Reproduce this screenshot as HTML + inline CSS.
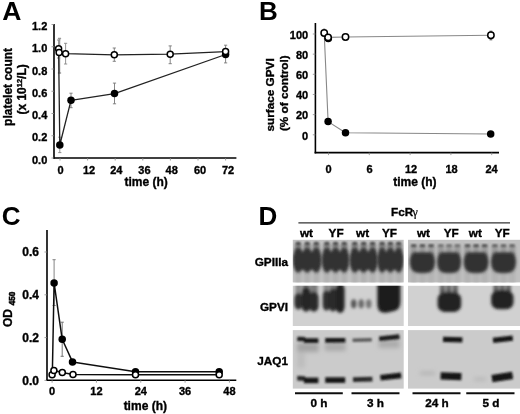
<!DOCTYPE html>
<html><head><meta charset="utf-8"><style>
html,body{margin:0;padding:0;background:#fff;}
svg{display:block;font-family:"Liberation Sans", sans-serif;}
.t text{font-weight:bold;fill:#000;stroke:#000;stroke-width:0.35;paint-order:stroke;}
</style></head><body>
<svg width="520" height="414" viewBox="0 0 520 414">
<defs><filter id="gb" x="0" y="0" width="100%" height="100%"><feGaussianBlur stdDeviation="0.35"/></filter></defs>
<g filter="url(#gb)">
<rect width="520" height="414" fill="#fff"/>
<g class="t">
<text x="2.3" y="19.8" font-size="26.5" text-anchor="start" style="stroke-width:0">A</text>
<text x="47.3" y="163.7" font-size="11" text-anchor="end" >0.0</text>
<text x="47.3" y="141.45" font-size="11" text-anchor="end" >0.2</text>
<text x="47.3" y="119.2" font-size="11" text-anchor="end" >0.4</text>
<text x="47.3" y="96.94999999999999" font-size="11" text-anchor="end" >0.6</text>
<text x="47.3" y="74.7" font-size="11" text-anchor="end" >0.8</text>
<text x="47.3" y="52.45" font-size="11" text-anchor="end" >1.0</text>
<text x="47.3" y="30.19999999999997" font-size="11" text-anchor="end" >1.2</text>
<text x="60.6" y="174.2" font-size="11" text-anchor="middle" >0</text>
<text x="89.0" y="174.2" font-size="11" text-anchor="middle" >12</text>
<text x="116.3" y="174.2" font-size="11" text-anchor="middle" >24</text>
<text x="144.4" y="174.2" font-size="11" text-anchor="middle" >36</text>
<text x="171.7" y="174.2" font-size="11" text-anchor="middle" >48</text>
<text x="200" y="174.2" font-size="11" text-anchor="middle" >60</text>
<text x="228" y="174.2" font-size="11" text-anchor="middle" >72</text>
<text x="146.2" y="185.9" font-size="12" text-anchor="middle" >time (h)</text>
<text transform="translate(12,86.9) rotate(-90)" font-size="12" text-anchor="middle" >platelet count</text>
<text transform="translate(26.2,89.4) rotate(-90)" font-size="12" text-anchor="middle" >(x 10<tspan font-size="7.5" dy="-4.5">12</tspan><tspan dy="4.5">/L)</tspan></text>
<text x="259.0" y="19.8" font-size="26" text-anchor="start" style="stroke-width:0">B</text>
<text x="308.2" y="139.60000000000002" font-size="11" text-anchor="end" >0</text>
<text x="308.2" y="119.44000000000001" font-size="11" text-anchor="end" >20</text>
<text x="308.2" y="99.28000000000002" font-size="11" text-anchor="end" >40</text>
<text x="308.2" y="79.12" font-size="11" text-anchor="end" >60</text>
<text x="308.2" y="58.96000000000001" font-size="11" text-anchor="end" >80</text>
<text x="308.2" y="38.80000000000001" font-size="11" text-anchor="end" >100</text>
<text x="328.5" y="172.7" font-size="11" text-anchor="middle" >0</text>
<text x="369.6" y="172.7" font-size="11" text-anchor="middle" >6</text>
<text x="411.0" y="172.7" font-size="11" text-anchor="middle" >12</text>
<text x="451.5" y="172.7" font-size="11" text-anchor="middle" >18</text>
<text x="491.5" y="172.7" font-size="11" text-anchor="middle" >24</text>
<text x="414.9" y="186.3" font-size="12" text-anchor="middle" >time (h)</text>
<text transform="translate(273.6,94.9) rotate(-90)" font-size="11.75" text-anchor="middle" >surface GPVI</text>
<text transform="translate(288.0,93.2) rotate(-90)" font-size="11.75" text-anchor="middle" >(% of control)</text>
<text x="1.8" y="224.9" font-size="26" text-anchor="start" style="stroke-width:0">C</text>
<text x="39.0" y="384.90000000000003" font-size="12" text-anchor="end" >0.0</text>
<text x="39.0" y="341.84000000000003" font-size="12" text-anchor="end" >0.2</text>
<text x="39.0" y="298.78000000000003" font-size="12" text-anchor="end" >0.4</text>
<text x="39.0" y="255.72000000000003" font-size="12" text-anchor="end" >0.6</text>
<text x="52.1" y="395.4" font-size="11" text-anchor="middle" >0</text>
<text x="96.428" y="395.4" font-size="11" text-anchor="middle" >12</text>
<text x="140.756" y="395.4" font-size="11" text-anchor="middle" >24</text>
<text x="185.084" y="395.4" font-size="11" text-anchor="middle" >36</text>
<text x="229.412" y="395.4" font-size="11" text-anchor="middle" >48</text>
<text x="145.3" y="410.4" font-size="12" text-anchor="middle" >time (h)</text>
<text transform="translate(12.2,327) rotate(-90)" font-size="12" text-anchor="start" >OD</text>
<text transform="translate(14.8,305.3) rotate(-90)" font-size="8.2" text-anchor="start" style="stroke-width:0.55">450</text>
<text x="258.6" y="224.9" font-size="26" text-anchor="start" style="stroke-width:0">D</text>
<text x="391.0" y="216.3" font-size="11.75" text-anchor="start" >FcR</text>
<text x="412.6" y="215.6" font-size="12" font-family="Liberation Serif" style="font-weight:normal;stroke-width:0.2">&#947;</text>
<text x="306.5" y="237.3" font-size="11.75" text-anchor="middle" >wt</text>
<text x="336.1" y="237.3" font-size="11.75" text-anchor="middle" >YF</text>
<text x="362.6" y="237.3" font-size="11.75" text-anchor="middle" >wt</text>
<text x="389.5" y="237.3" font-size="11.75" text-anchor="middle" >YF</text>
<text x="423.5" y="237.3" font-size="11.75" text-anchor="middle" >wt</text>
<text x="451.3" y="237.3" font-size="11.75" text-anchor="middle" >YF</text>
<text x="475.3" y="237.3" font-size="11.75" text-anchor="middle" >wt</text>
<text x="502.2" y="237.3" font-size="11.75" text-anchor="middle" >YF</text>
<text x="288.0" y="266.1" font-size="11.75" text-anchor="end" >GPIIIa</text>
<text x="288.0" y="311.4" font-size="11.75" text-anchor="end" >GPVI</text>
<text x="288.0" y="365.3" font-size="11.75" text-anchor="end" >JAQ1</text>
<text x="319" y="407.2" font-size="11.75" text-anchor="middle" >0 h</text>
<text x="375.5" y="407.2" font-size="11.75" text-anchor="middle" >3 h</text>
<text x="437" y="407.2" font-size="11.75" text-anchor="middle" >24 h</text>
<text x="491" y="407.2" font-size="11.75" text-anchor="middle" >5 d</text>
</g>
<line x1="54" y1="24" x2="54" y2="158.8" stroke="#000" stroke-width="1.6"/>
<line x1="53.2" y1="158" x2="236.4" y2="158" stroke="#000" stroke-width="1.6"/>
<line x1="51.5" y1="158.0" x2="54" y2="158.0" stroke="#888" stroke-width="0.8"/>
<line x1="51.5" y1="135.75" x2="54" y2="135.75" stroke="#888" stroke-width="0.8"/>
<line x1="51.5" y1="113.5" x2="54" y2="113.5" stroke="#888" stroke-width="0.8"/>
<line x1="51.5" y1="91.24999999999999" x2="54" y2="91.24999999999999" stroke="#888" stroke-width="0.8"/>
<line x1="51.5" y1="69.0" x2="54" y2="69.0" stroke="#888" stroke-width="0.8"/>
<line x1="51.5" y1="46.75" x2="54" y2="46.75" stroke="#888" stroke-width="0.8"/>
<line x1="51.5" y1="24.49999999999997" x2="54" y2="24.49999999999997" stroke="#888" stroke-width="0.8"/>
<line x1="60.0" y1="158" x2="60.0" y2="160.5" stroke="#888" stroke-width="0.8"/>
<line x1="87.6" y1="158" x2="87.6" y2="160.5" stroke="#888" stroke-width="0.8"/>
<line x1="115.19999999999999" y1="158" x2="115.19999999999999" y2="160.5" stroke="#888" stroke-width="0.8"/>
<line x1="142.8" y1="158" x2="142.8" y2="160.5" stroke="#888" stroke-width="0.8"/>
<line x1="170.39999999999998" y1="158" x2="170.39999999999998" y2="160.5" stroke="#888" stroke-width="0.8"/>
<line x1="198.0" y1="158" x2="198.0" y2="160.5" stroke="#888" stroke-width="0.8"/>
<line x1="225.6" y1="158" x2="225.6" y2="160.5" stroke="#888" stroke-width="0.8"/>
<line x1="58.6" y1="40" x2="58.6" y2="58" stroke="#888" stroke-width="0.9"/>
<line x1="57.0" y1="40" x2="60.2" y2="40" stroke="#888" stroke-width="0.9"/>
<line x1="57.0" y1="58" x2="60.2" y2="58" stroke="#888" stroke-width="0.9"/>
<line x1="59.5" y1="38.5" x2="59.5" y2="73" stroke="#999" stroke-width="1.5"/>
<line x1="57.9" y1="38.5" x2="61.1" y2="38.5" stroke="#999" stroke-width="1.5"/>
<line x1="57.9" y1="73" x2="61.1" y2="73" stroke="#999" stroke-width="1.5"/>
<line x1="65.6" y1="43.3" x2="65.6" y2="64" stroke="#888" stroke-width="0.9"/>
<line x1="63.99999999999999" y1="43.3" x2="67.19999999999999" y2="43.3" stroke="#888" stroke-width="0.9"/>
<line x1="63.99999999999999" y1="64" x2="67.19999999999999" y2="64" stroke="#888" stroke-width="0.9"/>
<line x1="114.3" y1="48" x2="114.3" y2="61.3" stroke="#777" stroke-width="0.9"/>
<line x1="112.7" y1="48" x2="115.89999999999999" y2="48" stroke="#777" stroke-width="0.9"/>
<line x1="112.7" y1="61.3" x2="115.89999999999999" y2="61.3" stroke="#777" stroke-width="0.9"/>
<line x1="170.2" y1="45.9" x2="170.2" y2="63.7" stroke="#777" stroke-width="0.9"/>
<line x1="168.6" y1="45.9" x2="171.79999999999998" y2="45.9" stroke="#777" stroke-width="0.9"/>
<line x1="168.6" y1="63.7" x2="171.79999999999998" y2="63.7" stroke="#777" stroke-width="0.9"/>
<line x1="225.6" y1="45.2" x2="225.6" y2="62.9" stroke="#777" stroke-width="0.9"/>
<line x1="224.0" y1="45.2" x2="227.2" y2="45.2" stroke="#777" stroke-width="0.9"/>
<line x1="224.0" y1="62.9" x2="227.2" y2="62.9" stroke="#777" stroke-width="0.9"/>
<line x1="59.8" y1="137.2" x2="59.8" y2="152.6" stroke="#888" stroke-width="0.9"/>
<line x1="58.199999999999996" y1="137.2" x2="61.4" y2="137.2" stroke="#888" stroke-width="0.9"/>
<line x1="58.199999999999996" y1="152.6" x2="61.4" y2="152.6" stroke="#888" stroke-width="0.9"/>
<line x1="71" y1="93.2" x2="71" y2="107.7" stroke="#777" stroke-width="0.9"/>
<line x1="69.4" y1="93.2" x2="72.6" y2="93.2" stroke="#777" stroke-width="0.9"/>
<line x1="69.4" y1="107.7" x2="72.6" y2="107.7" stroke="#777" stroke-width="0.9"/>
<line x1="114.5" y1="83.1" x2="114.5" y2="103.8" stroke="#777" stroke-width="0.9"/>
<line x1="112.9" y1="83.1" x2="116.1" y2="83.1" stroke="#777" stroke-width="0.9"/>
<line x1="112.9" y1="103.8" x2="116.1" y2="103.8" stroke="#777" stroke-width="0.9"/>
<polyline points="58.6,48.8 59.8,145 71,100.3 114.5,93.6 225.6,54.5" fill="none" stroke="#222" stroke-width="1.3" stroke-linejoin="round"/>
<polyline points="59.1,52.4 65.6,53.7 114.3,54.8 170.2,54.2 225.6,51.6" fill="none" stroke="#222" stroke-width="1.3" stroke-linejoin="round"/>
<circle cx="59.8" cy="145" r="3.75" fill="#000"/>
<circle cx="71" cy="100.3" r="3.75" fill="#000"/>
<circle cx="114.5" cy="93.6" r="3.75" fill="#000"/>
<circle cx="225.6" cy="54.5" r="3.75" fill="#000"/>
<circle cx="58.6" cy="48.8" r="3.0" fill="#fff" stroke="#000" stroke-width="1.5"/>
<circle cx="59.1" cy="52.4" r="3.0" fill="#fff" stroke="#000" stroke-width="1.5"/>
<circle cx="65.6" cy="53.7" r="3.0" fill="#fff" stroke="#000" stroke-width="1.5"/>
<circle cx="114.3" cy="54.8" r="3.0" fill="#fff" stroke="#000" stroke-width="1.5"/>
<circle cx="170.2" cy="54.2" r="3.0" fill="#fff" stroke="#000" stroke-width="1.5"/>
<circle cx="225.6" cy="51.6" r="3.0" fill="#fff" stroke="#000" stroke-width="1.5"/>
<line x1="315.4" y1="23" x2="315.4" y2="153.4" stroke="#000" stroke-width="1.6"/>
<line x1="314.6" y1="152.6" x2="499" y2="152.6" stroke="#000" stroke-width="1.6"/>
<line x1="312.8" y1="134.8" x2="315.4" y2="134.8" stroke="#888" stroke-width="0.8"/>
<line x1="312.8" y1="114.64000000000001" x2="315.4" y2="114.64000000000001" stroke="#888" stroke-width="0.8"/>
<line x1="312.8" y1="94.48000000000002" x2="315.4" y2="94.48000000000002" stroke="#888" stroke-width="0.8"/>
<line x1="312.8" y1="74.32000000000001" x2="315.4" y2="74.32000000000001" stroke="#888" stroke-width="0.8"/>
<line x1="312.8" y1="54.16000000000001" x2="315.4" y2="54.16000000000001" stroke="#888" stroke-width="0.8"/>
<line x1="312.8" y1="34.000000000000014" x2="315.4" y2="34.000000000000014" stroke="#888" stroke-width="0.8"/>
<line x1="328.5" y1="152.6" x2="328.5" y2="155.1" stroke="#888" stroke-width="0.8"/>
<line x1="369.3" y1="152.6" x2="369.3" y2="155.1" stroke="#888" stroke-width="0.8"/>
<line x1="410.1" y1="152.6" x2="410.1" y2="155.1" stroke="#888" stroke-width="0.8"/>
<line x1="450.9" y1="152.6" x2="450.9" y2="155.1" stroke="#888" stroke-width="0.8"/>
<line x1="491.7" y1="152.6" x2="491.7" y2="155.1" stroke="#888" stroke-width="0.8"/>
<line x1="490.9" y1="31.2" x2="490.9" y2="39.8" stroke="#555" stroke-width="1.0"/>
<line x1="489.5" y1="31.2" x2="492.29999999999995" y2="31.2" stroke="#555" stroke-width="1.0"/>
<line x1="489.5" y1="39.8" x2="492.29999999999995" y2="39.8" stroke="#555" stroke-width="1.0"/>
<line x1="324.2" y1="28.5" x2="324.2" y2="36" stroke="#bbb" stroke-width="0.8"/>
<line x1="323.2" y1="28.5" x2="325.2" y2="28.5" stroke="#bbb" stroke-width="0.8"/>
<line x1="323.2" y1="36" x2="325.2" y2="36" stroke="#bbb" stroke-width="0.8"/>
<polyline points="324.2,33.0 328.1,121.6 345.5,132.8 490.7,134" fill="none" stroke="#888" stroke-width="1.1" stroke-linejoin="round"/>
<circle cx="328.3" cy="38.4" r="3.75" fill="#000"/>
<polyline points="328.1,37.4 345.5,37 490.7,35.2" fill="none" stroke="#888" stroke-width="1.1" stroke-linejoin="round"/>
<circle cx="328.1" cy="121.6" r="3.75" fill="#000"/>
<circle cx="345.5" cy="132.8" r="3.75" fill="#000"/>
<circle cx="490.7" cy="134" r="3.75" fill="#000"/>
<circle cx="324.2" cy="33.0" r="3.2" fill="#fff" stroke="#000" stroke-width="1.5"/>
<circle cx="328.1" cy="37.4" r="3.2" fill="#fff" stroke="#000" stroke-width="1.5"/>
<circle cx="345.5" cy="37" r="3.2" fill="#fff" stroke="#000" stroke-width="1.5"/>
<circle cx="490.9" cy="35.3" r="3.2" fill="#fff" stroke="#000" stroke-width="1.5"/>
<line x1="47" y1="230" x2="47" y2="381.0" stroke="#000" stroke-width="1.6"/>
<line x1="46.2" y1="380.2" x2="236.3" y2="380.2" stroke="#000" stroke-width="1.6"/>
<line x1="44.5" y1="380.4" x2="47" y2="380.4" stroke="#888" stroke-width="0.8"/>
<line x1="44.5" y1="337.59999999999997" x2="47" y2="337.59999999999997" stroke="#888" stroke-width="0.8"/>
<line x1="44.5" y1="294.79999999999995" x2="47" y2="294.79999999999995" stroke="#888" stroke-width="0.8"/>
<line x1="44.5" y1="251.99999999999997" x2="47" y2="251.99999999999997" stroke="#888" stroke-width="0.8"/>
<line x1="52.1" y1="380.2" x2="52.1" y2="382.7" stroke="#888" stroke-width="0.8"/>
<line x1="96.428" y1="380.2" x2="96.428" y2="382.7" stroke="#888" stroke-width="0.8"/>
<line x1="140.756" y1="380.2" x2="140.756" y2="382.7" stroke="#888" stroke-width="0.8"/>
<line x1="185.084" y1="380.2" x2="185.084" y2="382.7" stroke="#888" stroke-width="0.8"/>
<line x1="229.412" y1="380.2" x2="229.412" y2="382.7" stroke="#888" stroke-width="0.8"/>
<line x1="54.1" y1="259.7" x2="54.1" y2="305.5" stroke="#777" stroke-width="0.9"/>
<line x1="52.5" y1="259.7" x2="55.7" y2="259.7" stroke="#777" stroke-width="0.9"/>
<line x1="52.5" y1="305.5" x2="55.7" y2="305.5" stroke="#777" stroke-width="0.9"/>
<line x1="62.2" y1="322.2" x2="62.2" y2="356.3" stroke="#666" stroke-width="0.9"/>
<line x1="60.6" y1="322.2" x2="63.800000000000004" y2="322.2" stroke="#666" stroke-width="0.9"/>
<line x1="60.6" y1="356.3" x2="63.800000000000004" y2="356.3" stroke="#666" stroke-width="0.9"/>
<polyline points="52.3,376 54.1,282.9 62.2,339.3 72.5,361.9 135.5,371.7 219.2,371.7" fill="none" stroke="#111" stroke-width="1.5" stroke-linejoin="round"/>
<polyline points="52.1,374.8 53.9,370.4 62.3,372.5 73,374.5 135.5,374.8 219.2,374.8" fill="none" stroke="#111" stroke-width="1.5" stroke-linejoin="round"/>
<circle cx="54.1" cy="282.9" r="3.75" fill="#000"/>
<circle cx="62.2" cy="339.3" r="3.75" fill="#000"/>
<circle cx="72.5" cy="361.9" r="3.75" fill="#000"/>
<circle cx="135.5" cy="371.7" r="3.75" fill="#000"/>
<circle cx="219.2" cy="371.7" r="3.75" fill="#000"/>
<circle cx="52.1" cy="374.8" r="3.0" fill="#fff" stroke="#000" stroke-width="1.5"/>
<circle cx="53.9" cy="370.4" r="3.0" fill="#fff" stroke="#000" stroke-width="1.5"/>
<circle cx="62.3" cy="372.5" r="3.0" fill="#fff" stroke="#000" stroke-width="1.5"/>
<circle cx="73" cy="374.5" r="3.0" fill="#fff" stroke="#000" stroke-width="1.5"/>
<circle cx="135.5" cy="374.8" r="3.0" fill="#fff" stroke="#000" stroke-width="1.5"/>
<circle cx="219.2" cy="374.8" r="3.0" fill="#fff" stroke="#000" stroke-width="1.5"/>
<line x1="298.4" y1="222.9" x2="510" y2="222.9" stroke="#333" stroke-width="1.3"/>
<line x1="295" y1="393.2" x2="342.8" y2="393.2" stroke="#111" stroke-width="2"/>
<line x1="351.5" y1="393.2" x2="399.5" y2="393.2" stroke="#111" stroke-width="2"/>
<line x1="412.5" y1="393.2" x2="460.5" y2="393.2" stroke="#111" stroke-width="2"/>
<line x1="466.25" y1="393.2" x2="514.5" y2="393.2" stroke="#111" stroke-width="2"/>
<defs><filter id="b1" x="-50%" y="-50%" width="200%" height="200%"><feGaussianBlur stdDeviation="1.4"/></filter><filter id="b2" x="-50%" y="-50%" width="200%" height="200%"><feGaussianBlur stdDeviation="0.9"/></filter><filter id="b3" x="-50%" y="-50%" width="200%" height="200%"><feGaussianBlur stdDeviation="2.2"/></filter><linearGradient id="gs" x1="0" y1="0" x2="0" y2="1"><stop offset="0" stop-color="#808080"/><stop offset="1" stop-color="#3a3a3a"/></linearGradient><clipPath id="cl1"><rect x="292.8" y="239.8" width="110.9" height="42.6"/></clipPath><clipPath id="cr1"><rect x="408" y="239.8" width="112" height="42.6"/></clipPath><clipPath id="cl2"><rect x="292.8" y="285.8" width="110.9" height="40.2"/></clipPath><clipPath id="cr2"><rect x="408" y="285.8" width="112" height="40.2"/></clipPath><clipPath id="cl3"><rect x="292.8" y="330.1" width="110.8" height="58.5"/></clipPath><clipPath id="cr3"><rect x="408" y="330.1" width="112" height="58.5"/></clipPath></defs>
<rect x="292.8" y="239.8" width="110.9" height="42.6" fill="#c4c4c4"/>
<rect x="408" y="239.8" width="112" height="42.6" fill="#c0c0c0"/>
<rect x="292.8" y="285.8" width="110.9" height="40.2" fill="#d1d1d1"/>
<rect x="408" y="285.8" width="112" height="40.2" fill="#d1d1d1"/>
<rect x="292.8" y="330.1" width="110.9" height="58.5" fill="#cbcbcb"/>
<rect x="408" y="330.1" width="112" height="58.5" fill="#cbcbcb"/>
<g clip-path="url(#cl1)">
<g filter="url(#b1)">
<rect x="294.91666666666663" y="269.6" width="6.6" height="14" fill="#b2b2b2"/>
<rect x="295.01666666666665" y="243.6" width="6.4" height="8.200000000000017" fill="#808080"/>
<rect x="303.95" y="269.6" width="6.6" height="14" fill="#b2b2b2"/>
<rect x="304.05" y="243.6" width="6.4" height="8.200000000000017" fill="#808080"/>
<rect x="312.98333333333335" y="269.6" width="6.6" height="14" fill="#b2b2b2"/>
<rect x="313.08333333333337" y="243.6" width="6.4" height="8.200000000000017" fill="#808080"/>
</g><g filter="url(#b1)">
<ellipse cx="298.2" cy="260.2" rx="5.4" ry="12.4" fill="#303030"/>
<ellipse cx="307.2" cy="260.2" rx="5.4" ry="12.4" fill="#303030"/>
<ellipse cx="316.3" cy="260.2" rx="5.4" ry="12.4" fill="#303030"/>
<ellipse cx="307.2" cy="260.7" rx="12.8" ry="9.9" fill="#303030"/>
</g><g filter="url(#b2)">
<rect x="295.91666666666663" y="242.0" width="4.6" height="3.2" fill="#4a4a4a"/>
<rect x="304.95" y="242.0" width="4.6" height="3.2" fill="#4a4a4a"/>
<rect x="313.98333333333335" y="242.0" width="4.6" height="3.2" fill="#4a4a4a"/>
</g></g>
<g clip-path="url(#cl1)">
<g filter="url(#b1)">
<rect x="323.55" y="269.6" width="6.6" height="14" fill="#b2b2b2"/>
<rect x="323.65000000000003" y="243.6" width="6.4" height="8.200000000000017" fill="#808080"/>
<rect x="332.25" y="269.6" width="6.6" height="14" fill="#b2b2b2"/>
<rect x="332.35" y="243.6" width="6.4" height="8.200000000000017" fill="#808080"/>
<rect x="340.95" y="269.6" width="6.6" height="14" fill="#b2b2b2"/>
<rect x="341.05" y="243.6" width="6.4" height="8.200000000000017" fill="#808080"/>
</g><g filter="url(#b1)">
<ellipse cx="326.9" cy="260.2" rx="5.3" ry="12.4" fill="#303030"/>
<ellipse cx="335.6" cy="260.2" rx="5.3" ry="12.4" fill="#303030"/>
<ellipse cx="344.2" cy="260.2" rx="5.3" ry="12.4" fill="#303030"/>
<ellipse cx="335.6" cy="260.7" rx="12.3" ry="9.9" fill="#303030"/>
</g><g filter="url(#b2)">
<rect x="324.55" y="242.0" width="4.6" height="3.2" fill="#4a4a4a"/>
<rect x="333.25" y="242.0" width="4.6" height="3.2" fill="#4a4a4a"/>
<rect x="341.95" y="242.0" width="4.6" height="3.2" fill="#4a4a4a"/>
</g></g>
<g clip-path="url(#cl1)">
<g filter="url(#b1)">
<rect x="351.45" y="269.6" width="6.6" height="14" fill="#b2b2b2"/>
<rect x="351.55" y="243.6" width="6.4" height="8.200000000000017" fill="#808080"/>
<rect x="360.34999999999997" y="269.6" width="6.6" height="14" fill="#b2b2b2"/>
<rect x="360.45" y="243.6" width="6.4" height="8.200000000000017" fill="#808080"/>
<rect x="369.25" y="269.6" width="6.6" height="14" fill="#b2b2b2"/>
<rect x="369.35" y="243.6" width="6.4" height="8.200000000000017" fill="#808080"/>
</g><g filter="url(#b1)">
<ellipse cx="354.8" cy="260.2" rx="5.3" ry="12.4" fill="#303030"/>
<ellipse cx="363.6" cy="260.2" rx="5.3" ry="12.4" fill="#303030"/>
<ellipse cx="372.6" cy="260.2" rx="5.3" ry="12.4" fill="#303030"/>
<ellipse cx="363.6" cy="260.7" rx="12.5" ry="9.9" fill="#303030"/>
</g><g filter="url(#b2)">
<rect x="352.45" y="242.0" width="4.6" height="3.2" fill="#4a4a4a"/>
<rect x="361.34999999999997" y="242.0" width="4.6" height="3.2" fill="#4a4a4a"/>
<rect x="370.25" y="242.0" width="4.6" height="3.2" fill="#4a4a4a"/>
</g></g>
<g clip-path="url(#cl1)">
<g filter="url(#b1)">
<rect x="378.8333333333333" y="269.6" width="6.6" height="14" fill="#b2b2b2"/>
<rect x="378.93333333333334" y="243.6" width="6.4" height="8.200000000000017" fill="#808080"/>
<rect x="387.09999999999997" y="269.6" width="6.6" height="14" fill="#b2b2b2"/>
<rect x="387.2" y="243.6" width="6.4" height="8.200000000000017" fill="#808080"/>
<rect x="395.3666666666667" y="269.6" width="6.6" height="14" fill="#b2b2b2"/>
<rect x="395.4666666666667" y="243.6" width="6.4" height="8.200000000000017" fill="#808080"/>
</g><g filter="url(#b1)">
<ellipse cx="382.1" cy="260.2" rx="5.0" ry="12.4" fill="#303030"/>
<ellipse cx="390.4" cy="260.2" rx="5.0" ry="12.4" fill="#303030"/>
<ellipse cx="398.7" cy="260.2" rx="5.0" ry="12.4" fill="#303030"/>
<ellipse cx="390.4" cy="260.7" rx="11.6" ry="9.9" fill="#303030"/>
</g><g filter="url(#b2)">
<rect x="379.8333333333333" y="242.0" width="4.6" height="3.2" fill="#4a4a4a"/>
<rect x="388.09999999999997" y="242.0" width="4.6" height="3.2" fill="#4a4a4a"/>
<rect x="396.3666666666667" y="242.0" width="4.6" height="3.2" fill="#4a4a4a"/>
</g></g>
<g clip-path="url(#cr1)"><g filter="url(#b1)">
<rect x="410.5333333333333" y="245.6" width="6.4" height="9.599999999999994" fill="#9a9a9a"/>
<rect x="410.4333333333333" y="269.9" width="6.6" height="14" fill="#b4b4b4"/>
<rect x="419.2" y="245.6" width="6.4" height="9.599999999999994" fill="#9a9a9a"/>
<rect x="419.09999999999997" y="269.9" width="6.6" height="14" fill="#b4b4b4"/>
<rect x="427.8666666666667" y="245.6" width="6.4" height="9.599999999999994" fill="#9a9a9a"/>
<rect x="427.76666666666665" y="269.9" width="6.6" height="14" fill="#b4b4b4"/>
</g><g filter="url(#b1)">
<path d="M414.4,252.2 L430.4,252.2 Q435.1,253.2 435.1,262.2 Q434.8,272.9 426.4,272.9 L418.4,272.9 Q410.0,272.9 409.7,262.2 Q409.7,253.2 414.4,252.2 Z" fill="#333"/>
</g><g filter="url(#b2)">
<rect x="411.13333333333327" y="244.4" width="5.2" height="2.6" fill="#4a4a4a"/>
<rect x="419.79999999999995" y="244.4" width="5.2" height="2.6" fill="#4a4a4a"/>
<rect x="428.46666666666664" y="244.4" width="5.2" height="2.6" fill="#4a4a4a"/>
</g></g>
<g clip-path="url(#cr1)"><g filter="url(#b1)">
<rect x="437.6333333333333" y="245.6" width="6.4" height="9.599999999999994" fill="#9a9a9a"/>
<rect x="437.5333333333333" y="269.9" width="6.6" height="14" fill="#b4b4b4"/>
<rect x="445.90000000000003" y="245.6" width="6.4" height="9.599999999999994" fill="#9a9a9a"/>
<rect x="445.8" y="269.9" width="6.6" height="14" fill="#b4b4b4"/>
<rect x="454.1666666666667" y="245.6" width="6.4" height="9.599999999999994" fill="#9a9a9a"/>
<rect x="454.06666666666666" y="269.9" width="6.6" height="14" fill="#b4b4b4"/>
</g><g filter="url(#b1)">
<path d="M441.7,252.2 L456.5,252.2 Q461.2,253.2 461.2,262.2 Q460.9,272.9 453.1,272.9 L445.1,272.9 Q437.3,272.9 437.0,262.2 Q437.0,253.2 441.7,252.2 Z" fill="#333"/>
</g><g filter="url(#b2)">
<rect x="438.2333333333333" y="244.4" width="5.2" height="2.6" fill="#6a6a6a"/>
<rect x="446.5" y="244.4" width="5.2" height="2.6" fill="#6a6a6a"/>
<rect x="454.76666666666665" y="244.4" width="5.2" height="2.6" fill="#6a6a6a"/>
</g></g>
<g clip-path="url(#cr1)"><g filter="url(#b1)">
<rect x="464.3666666666667" y="245.6" width="6.4" height="9.599999999999994" fill="#9a9a9a"/>
<rect x="464.26666666666665" y="269.9" width="6.6" height="14" fill="#b4b4b4"/>
<rect x="472.90000000000003" y="245.6" width="6.4" height="9.599999999999994" fill="#9a9a9a"/>
<rect x="472.8" y="269.9" width="6.6" height="14" fill="#b4b4b4"/>
<rect x="481.43333333333334" y="245.6" width="6.4" height="9.599999999999994" fill="#9a9a9a"/>
<rect x="481.3333333333333" y="269.9" width="6.6" height="14" fill="#b4b4b4"/>
</g><g filter="url(#b1)">
<path d="M468.3,252.2 L483.9,252.2 Q488.6,253.2 488.6,262.2 Q488.3,272.9 480.1,272.9 L472.1,272.9 Q463.9,272.9 463.6,262.2 Q463.6,253.2 468.3,252.2 Z" fill="#333"/>
</g><g filter="url(#b2)">
<rect x="464.96666666666664" y="244.4" width="5.2" height="2.6" fill="#484848"/>
<rect x="473.5" y="244.4" width="5.2" height="2.6" fill="#484848"/>
<rect x="482.0333333333333" y="244.4" width="5.2" height="2.6" fill="#484848"/>
</g></g>
<g clip-path="url(#cr1)"><g filter="url(#b1)">
<rect x="491.70000000000005" y="245.6" width="6.4" height="9.599999999999994" fill="#9a9a9a"/>
<rect x="491.6" y="269.9" width="6.6" height="14" fill="#b4b4b4"/>
<rect x="500.3" y="245.6" width="6.4" height="9.599999999999994" fill="#9a9a9a"/>
<rect x="500.2" y="269.9" width="6.6" height="14" fill="#b4b4b4"/>
<rect x="508.90000000000003" y="245.6" width="6.4" height="9.599999999999994" fill="#9a9a9a"/>
<rect x="508.8" y="269.9" width="6.6" height="14" fill="#b4b4b4"/>
</g><g filter="url(#b1)">
<path d="M495.6,252.2 L511.4,252.2 Q516.1,253.2 516.1,262.2 Q515.8,272.9 507.5,272.9 L499.5,272.9 Q491.2,272.9 490.9,262.2 Q490.9,253.2 495.6,252.2 Z" fill="#333"/>
</g><g filter="url(#b2)">
<rect x="492.3" y="244.4" width="5.2" height="2.6" fill="#5a5a5a"/>
<rect x="500.9" y="244.4" width="5.2" height="2.6" fill="#5a5a5a"/>
<rect x="509.5" y="244.4" width="5.2" height="2.6" fill="#5a5a5a"/>
</g></g>
<g clip-path="url(#cl2)"><g filter="url(#b1)">
<rect x="295.5" y="283" width="6.0" height="14" fill="#8a8a8a"/>
<rect x="302.5" y="283" width="7.0" height="9" fill="#707070"/>
<rect x="310.2" y="283" width="7.400000000000034" height="13" fill="#7a7a7a"/>
<rect x="323.5" y="283" width="5.800000000000011" height="12" fill="#8a8a8a"/>
<rect x="329.7" y="283" width="6.5" height="10" fill="#7a7a7a"/>
<rect x="294.4" y="293.0" width="8.0" height="16.4" rx="3.5" ry="6.0" fill="#2e2e2e"/>
<rect x="301.6" y="287.2" width="9.0" height="24.4" rx="4.0" ry="6.5" fill="#262626"/>
<rect x="309.2" y="291.8" width="9.4" height="19.8" rx="4.2" ry="6.7" fill="#2a2a2a"/>
<rect x="322.7" y="290.6" width="7.5" height="19.9" rx="3.2" ry="5.8" fill="#2e2e2e"/>
<rect x="328.8" y="288.6" width="8.3" height="22.8" rx="3.7" ry="6.2" fill="#2a2a2a"/>
<rect x="335.7" y="283" width="8.9" height="29.8" rx="4.0" ry="6.5" fill="#222"/>
<ellipse cx="353.7" cy="303.8" rx="2.7" ry="4.6" fill="#555"/>
<ellipse cx="361.2" cy="303.8" rx="2.7" ry="4.6" fill="#666"/>
<ellipse cx="368.7" cy="303.8" rx="2.7" ry="4.6" fill="#737373"/>
<path d="M377.3,280 L400.4,280 L400.4,302 Q400.4,310.5 392,311.5 L386,312.8 Q377.3,313.5 377.3,304 Z" fill="#1c1c1c"/>
</g></g>
<g clip-path="url(#cr2)"><g filter="url(#b1)">
<rect x="439.9" y="283" width="5.2" height="14" fill="url(#gs)"/>
<rect x="446.2" y="283" width="5.2" height="14" fill="url(#gs)"/>
<rect x="452.59999999999997" y="283" width="5.2" height="14" fill="url(#gs)"/>
<rect x="437.6" y="292.5" width="23.6" height="19.5" rx="7.5" ry="6.5" fill="#222"/>
<rect x="493.4" y="283" width="5.2" height="12" fill="url(#gs)"/>
<rect x="499.59999999999997" y="283" width="5.2" height="12" fill="url(#gs)"/>
<rect x="505.79999999999995" y="283" width="5.2" height="12" fill="url(#gs)"/>
<rect x="491.2" y="290.5" width="22.3" height="18.7" rx="7.5" ry="6.5" fill="#222"/>
</g></g>
<g clip-path="url(#cl3)"><g filter="url(#b3)">
<rect x="297" y="343" width="21.600000000000023" height="9" fill="#a4a4a4"/>
<rect x="324.9" y="343" width="20.700000000000045" height="8" fill="#aaaaaa"/>
<rect x="378.7" y="340" width="20.900000000000034" height="8" fill="#acacac"/>
<rect x="297" y="353" width="8" height="15" fill="#bdbdbd"/>
</g></g>
<g clip-path="url(#cr3)"><g filter="url(#b3)">
<rect x="420" y="371.5" width="15" height="3.5" fill="#b4b4b4"/>
<rect x="474" y="377.5" width="12" height="3.5" fill="#b8b8b8"/>
</g></g>
<g filter="url(#b2)">
<path d="M297.2,338.8 L305.1,339.2" stroke="#1e1e1e" stroke-width="4.2" stroke-linecap="butt"/>
<path d="M303.9,340.6 L318.40000000000003,340.6" stroke="#161616" stroke-width="4.6" stroke-linecap="butt"/>
<path d="M325.2,340.4 L345.40000000000003,340.2" stroke="#181818" stroke-width="4.6" stroke-linecap="butt"/>
<path d="M352.59999999999997,340.2 L371.8,339.8" stroke="#5a5a5a" stroke-width="3.6" stroke-linecap="butt"/>
<path d="M379.2,338.8 L399.40000000000003,336.6" stroke="#1c1c1c" stroke-width="4.6" stroke-linecap="butt"/>
<path d="M443.0,339.3 L462.40000000000003,339.9" stroke="#181818" stroke-width="5.2" stroke-linecap="butt"/>
<path d="M493.0,340.3 L512.8,338.2" stroke="#181818" stroke-width="5.2" stroke-linecap="butt"/>
<path d="M297.2,378.2 L305.1,378.6" stroke="#2a2a2a" stroke-width="4.8" stroke-linecap="butt"/>
<path d="M303.9,380.4 L318.40000000000003,380.4" stroke="#161616" stroke-width="5.6" stroke-linecap="butt"/>
<path d="M325.2,380.1 L345.20000000000005,380.1" stroke="#161616" stroke-width="5.6" stroke-linecap="butt"/>
<path d="M353.0,379.6 L372.40000000000003,379.2" stroke="#2c2c2c" stroke-width="4.8" stroke-linecap="butt"/>
<path d="M380.4,377.8 L401.20000000000005,375.4" stroke="#141414" stroke-width="5.6" stroke-linecap="butt"/>
<path d="M440.59999999999997,375.9 L461.40000000000003,376.6" stroke="#141414" stroke-width="7.4" stroke-linecap="butt"/>
<path d="M492.0,378.6 L512.6,375.4" stroke="#141414" stroke-width="7.4" stroke-linecap="butt"/>
</g>
</g>
</svg>
</body></html>
